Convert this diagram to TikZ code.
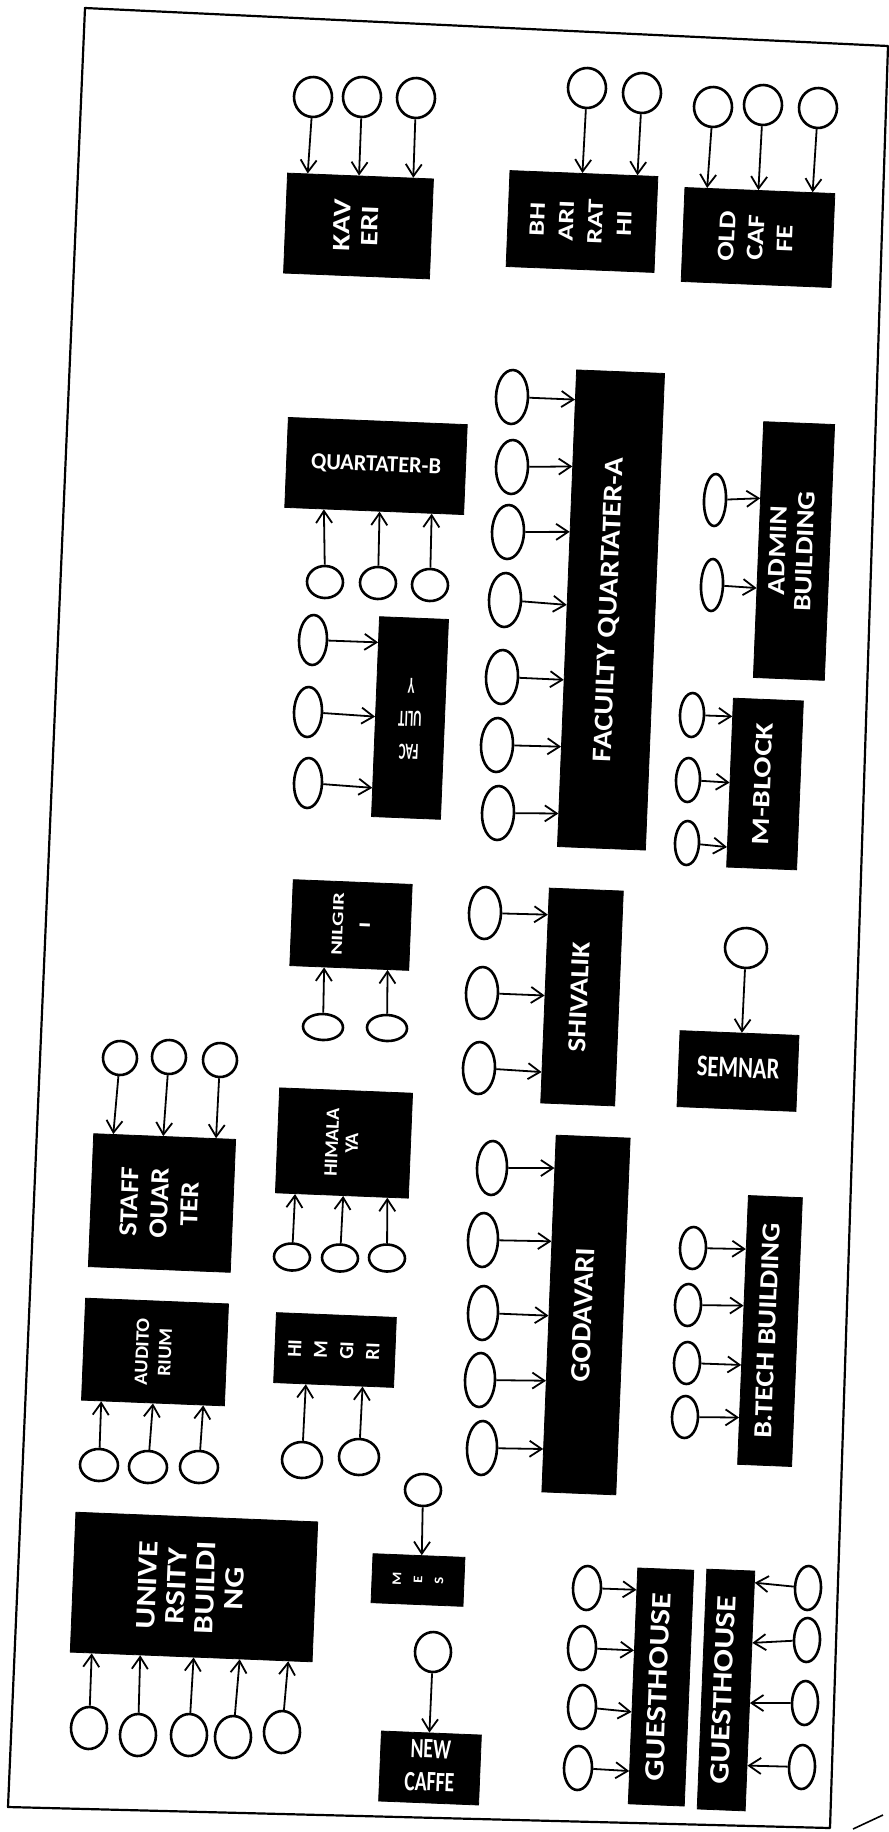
\documentclass[tikz,border=0pt]{standalone}
\usepackage{fontspec}
\usepackage{graphicx}
\usetikzlibrary{shapes.geometric,arrows.meta,calc}
\newfontfamily\bx{Carlito}
\newcommand\btxt[4]{\scalebox{#1}[1]{\fontsize{#2pt}{#3pt}\selectfont\begin{tabular}{@{}c@{}}#4\end{tabular}}}
\newcommand\rtx[4]{\rotatebox{90}{\btxt{#1}{#2}{#3}{#4}}}
\newcommand\crc[4]{\node[circ,minimum width=#3pt,minimum height=#4pt] (#1) at (#2) {};}
\newcommand\arN[3]{\draw[arr] (#1) -- ($(#2.north west)!#3!(#2.north east)$);}
\newcommand\arS[3]{\draw[arr] (#1) -- ($(#2.south west)!#3!(#2.south east)$);}
\newcommand\arW[3]{\draw[arr] (#1) -- ($(#2.north west)!#3!(#2.south west)$);}
\newcommand\arE[3]{\draw[arr] (#1) -- ($(#2.north east)!#3!(#2.south east)$);}
\begin{document}
\begin{tikzpicture}[x=0.5pt,y=-0.5pt,
  bld/.style={fill=black,draw=black,rotate=-2.3,inner sep=0pt,text=white,font=\bx\bfseries},
  circ/.style={ellipse,draw=black,line width=1.3pt,inner sep=0pt,rotate=-2.3},
  arr/.style={line width=0.9pt,-{Straight Barb[length=6pt,width=8pt]}},
  pageframe/.style={line width=1.1pt,line join=round}]
\fill[white] (0,0) rectangle (889,1832);
\useasboundingbox (0,0) rectangle (889,1832);
\draw[pageframe] (85,8) -- (888,46) -- (830,1828) -- (8,1807) -- cycle;
\draw[line width=0.8pt] (853,1829) -- (883,1815);

% boxes
\node[bld,minimum width=73pt,minimum height=50pt] (kav) at (358.5,226) {\rtx{1.22}{12.5}{14}{KAV\\ERI}};
\node[bld,minimum width=74pt,minimum height=48pt] (bha) at (582,221.5) {\rtx{1.28}{11}{14.5}{BH\\ARI\\RAT\\HI}};
\node[bld,minimum width=75pt,minimum height=47pt] (old) at (758,237.5) {\rtx{1.2}{12}{14.5}{OLD\\CAF\\FE}};
\node[bld,minimum width=89.5pt,minimum height=45pt] (qb) at (376,466) {\btxt{0.97}{11.5}{13}{QUARTATER-B}};
\node[bld,minimum width=34.5pt,minimum height=100pt] (fac) at (410,718) {\rotatebox{180}{\btxt{0.55}{11.5}{16.5}{FAC\\ULIT\\Y}}};
\node[bld,minimum width=44pt,minimum height=238.5pt] (fqa) at (611,610) {\rtx{1.14}{13.5}{15}{FACUILTY QUARTATER-A}};
\node[bld,minimum width=35.5pt,minimum height=128pt] (adm) at (794,551) {\rtx{1.17}{12.5}{13.5}{ADMIN\\BUILDING}};
\node[bld,minimum width=59.5pt,minimum height=43pt] (nil) at (351,925) {\rtx{1.4}{8}{13.5}{NILGIR\\I}};
\node[bld,minimum width=66.5pt,minimum height=52.5pt] (him) at (344,1143) {\rtx{1.05}{9.5}{10}{HIMALA\\YA}};
\node[bld,minimum width=37pt,minimum height=107.5pt] (shi) at (582,997) {\rtx{1.13}{13}{14}{SHIVALIK}};
\node[bld,minimum width=35pt,minimum height=84.5pt] (mbl) at (765,784) {\rtx{1.25}{12.5}{14}{M-BLOCK}};
\node[bld,minimum width=59.5pt,minimum height=38pt] (sem) at (738,1071) {\btxt{0.75}{15}{16}{SEMNAR}};
\node[bld,minimum width=71pt,minimum height=66.5pt] (stf) at (162,1203) {\rtx{1.1}{13}{15}{STAFF\\OUAR\\TER}};
\node[bld,minimum width=71.5pt,minimum height=51pt] (aud) at (155,1352) {\rtx{1.07}{9.5}{11.5}{AUDITO\\RIUM}};
\node[bld,minimum width=60pt,minimum height=35pt] (hmg) at (335,1350) {\rtx{1.0}{10}{13}{HI\\M\\GI\\RI}};
\node[bld,minimum width=37pt,minimum height=178.5pt] (god) at (586,1315) {\rtx{1.08}{14}{15}{GODAVARI}};
\node[bld,minimum width=27pt,minimum height=134.5pt] (btc) at (770,1331) {\rtx{1.15}{13}{14}{B.TECH BUILDING}};
\node[bld,minimum width=121pt,minimum height=70pt] (uni) at (194,1587) {\rtx{1.18}{14}{14.5}{UNIVE\\RSITY\\BUILDI\\NG}};
\node[bld,minimum width=46pt,minimum height=24.5pt] (mes) at (418,1580) {\rtx{1.15}{6.5}{10.5}{M\\E\\S}};
\node[bld,minimum width=50pt,minimum height=35pt] (nca) at (430,1768) {\btxt{0.7}{14}{16.5}{NEW\\CAFFE}};
\node[bld,minimum width=28pt,minimum height=118pt] (gh1) at (661,1687) {\rtx{1.19}{14}{15}{GUESTHOUSE}};
\node[bld,minimum width=24pt,minimum height=120pt] (gh2) at (726,1690) {\rtx{1.19}{14}{15}{GUESTHOUSE}};

% circles
\crc{k1}{313,97}{19}{20} \crc{k2}{362,97}{19}{20} \crc{k3}{416,98}{19}{20}
\crc{b1}{587,88}{19}{20} \crc{b2}{642,93}{19}{20}
\crc{o1}{713,107}{19}{20} \crc{o2}{763,105}{19}{20} \crc{o3}{818,108}{19}{20}
\crc{q1}{325,582}{18}{16} \crc{q2}{378,583}{18}{16} \crc{q3}{430,585}{18}{16}
\crc{f1}{313,640}{14}{25} \crc{f2}{308,712}{14}{25} \crc{f3}{308,783}{14}{25}
\crc{a1}{512,397}{16}{27} \crc{a2}{512,467}{16}{27} \crc{a3}{508,532}{16}{27}
\crc{a4}{505,600}{16}{27} \crc{a5}{502,677}{16}{27} \crc{a6}{497,745}{16}{27}
\crc{a7}{498,813}{16}{27}
\crc{d1}{715,500}{11}{26} \crc{d2}{712,585}{11}{26}
\crc{n1}{323,1027}{20}{13} \crc{n2}{387,1028}{20}{13}
\crc{h1}{292,1257}{18}{13.5} \crc{h2}{340,1258}{18}{13.5} \crc{h3}{387,1258}{18}{13.5}
\crc{s1}{485,913}{16}{26} \crc{s2}{482,993}{16}{26} \crc{s3}{479,1068}{16}{26}
\crc{m1}{692,715}{12}{22} \crc{m2}{688,780}{12}{22} \crc{m3}{687,843}{12}{22}
\crc{e1}{746,948}{21}{20}
\crc{t1}{120,1058}{17}{17} \crc{t2}{169,1057}{17}{17} \crc{t3}{220,1060}{17}{17}
\crc{u1}{99,1465}{19}{16} \crc{u2}{148,1467}{19}{16} \crc{u3}{199,1467}{19}{16}
\crc{g1}{302,1460}{20}{18} \crc{g2}{359,1457}{20}{18}
\crc{v1}{492,1168}{15}{27} \crc{v2}{483,1240}{15}{27} \crc{v3}{483,1313}{15}{27}
\crc{v4}{480,1380}{15}{27} \crc{v5}{482,1448}{15}{27}
\crc{c1}{693,1248}{13}{21} \crc{c2}{688,1305}{13}{21} \crc{c3}{687,1363}{13}{21}
\crc{c4}{685,1417}{13}{21}
\crc{w1}{89,1728}{18}{21} \crc{w2}{138,1735}{18}{21} \crc{w3}{189,1735}{18}{21}
\crc{w4}{233,1737}{18}{21} \crc{w5}{282,1732}{18}{21}
\crc{x1}{423,1490}{18}{16}
\crc{y1}{433,1652}{18}{20}
\crc{p1}{587,1588}{14}{22} \crc{p2}{582,1648}{14}{22} \crc{p3}{582,1707}{14}{22}
\crc{p4}{578,1768}{14}{22}
\crc{r1}{808,1588}{13}{22} \crc{r2}{807,1640}{13}{22} \crc{r3}{805,1703}{13}{22}
\crc{r4}{802,1767}{13}{22}

% arrows
\arN{k1}{kav}{0.14} \arN{k2}{kav}{0.49} \arN{k3}{kav}{0.86}
\arN{b1}{bha}{0.49} \arN{b2}{bha}{0.86}
\arN{o1}{old}{0.15} \arN{o2}{old}{0.49} \arN{o3}{old}{0.85}
\arS{q1}{qb}{0.22} \arS{q2}{qb}{0.53} \arS{q3}{qb}{0.82}
\arW{f1}{fac}{0.13} \arW{f2}{fac}{0.5} \arW{f3}{fac}{0.855}
\arW{a1}{fqa}{0.063} \arW{a2}{fqa}{0.203} \arW{a3}{fqa}{0.34} \arW{a4}{fqa}{0.493}
\arW{a5}{fqa}{0.65} \arW{a6}{fqa}{0.79} \arW{a7}{fqa}{0.93}
\arW{d1}{adm}{0.30} \arW{d2}{adm}{0.65}
\arS{n1}{nil}{0.29} \arS{n2}{nil}{0.82}
\arS{h1}{him}{0.15} \arS{h2}{him}{0.51} \arS{h3}{him}{0.84}
\arW{s1}{shi}{0.125} \arW{s2}{shi}{0.5} \arW{s3}{shi}{0.855}
\arW{m1}{mbl}{0.11} \arW{m2}{mbl}{0.5} \arW{m3}{mbl}{0.88}
\arN{e1}{sem}{0.52}
\arN{t1}{stf}{0.14} \arN{t2}{stf}{0.49} \arN{t3}{stf}{0.86}
\arS{u1}{aud}{0.14} \arS{u2}{aud}{0.5} \arS{u3}{aud}{0.85}
\arS{g1}{hmg}{0.27} \arS{g2}{hmg}{0.74}
\arW{v1}{god}{0.093} \arW{v2}{god}{0.298} \arW{v3}{god}{0.506} \arW{v4}{god}{0.688} \arW{v5}{god}{0.879}
\arW{c1}{btc}{0.2} \arW{c2}{btc}{0.41} \arW{c3}{btc}{0.63} \arW{c4}{btc}{0.825}
\arS{w1}{uni}{0.09} \arS{w2}{uni}{0.29} \arS{w3}{uni}{0.51} \arS{w4}{uni}{0.70} \arS{w5}{uni}{0.90}
\arN{x1}{mes}{0.53}
\arN{y1}{nca}{0.48}
\arW{p1}{gh1}{0.094} \arW{p2}{gh1}{0.35} \arW{p3}{gh1}{0.61} \arW{p4}{gh1}{0.86}
\arE{r1}{gh2}{0.05} \arE{r2}{gh2}{0.30} \arE{r3}{gh2}{0.55} \arE{r4}{gh2}{0.81}
\end{tikzpicture}
\end{document}
